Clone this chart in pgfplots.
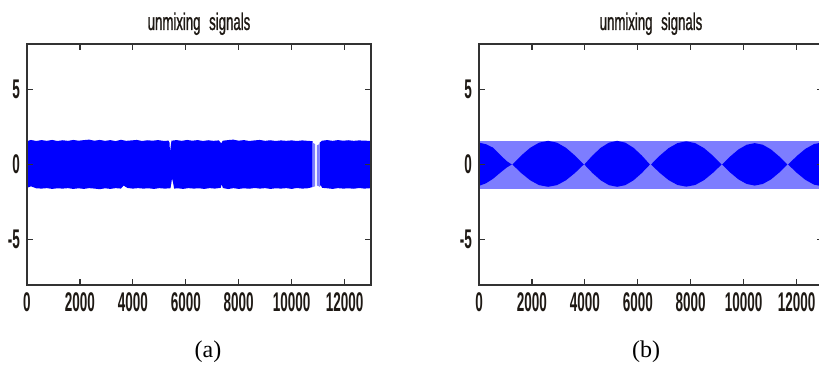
\documentclass[border=0pt]{standalone}
\usepackage{fontspec}
\setmainfont{Liberation Serif}
\newfontfamily\tickfont[FakeStretch=0.5]{Liberation Sans Bold}
\newfontfamily\titlefont[FakeStretch=0.55,FakeBold=1]{Liberation Sans}
\usepackage{pgfplots}
\pgfplotsset{compat=1.18}
\definecolor{lightsig}{RGB}{125,125,255}
\definecolor{framec}{RGB}{50,50,50}
\definecolor{txtc}{RGB}{30,25,20}
\pgfplotsset{
  every axis title shift=0pt,
  sigaxis/.style={
    scale only axis, width=172pt, height=120.5pt,
    xmin=0, xmax=13000, ymin=-8, ymax=8,
    xtick={0,2000,4000,6000,8000,10000,12000},
    ytick={-5,0,5},
    scaled x ticks=false,
    tick align=inside,
    major tick length=3pt,
    axis line style={framec, line width=0.7pt},
    every tick/.style={framec, line width=0.6pt},
    /pgf/number format/assume math mode=true,
    /pgf/number format/1000 sep={},
    ticklabel style={font=\tickfont\fontsize{13.5}{14}\selectfont, text=txtc},
    xticklabel style={yshift=-0.5pt},
    title={unmixing\hspace{2.5pt} signals},
    title style={font=\titlefont\fontsize{12}{13}\selectfont, text=txtc, anchor=base, at={(axis description cs:0.5,1)}, yshift=7pt},
    axis on top,
  }
}
\begin{document}
\begin{tikzpicture}
\useasboundingbox (0,0) rectangle (409.5pt,183pt);
% ---------- panel (a) ----------
\begin{axis}[sigaxis, at={(13.5pt,40.5pt)}, anchor=south west]
\addplot[fill=blue, draw=none] coordinates {
(0,1.55) (150,1.63) (350,1.56) (550,1.62) (750,1.57) (950,1.63) (1150,1.56) (1350,1.61) (1550,1.57) (1750,1.63) (1950,1.58) (2150,1.62) (2350,1.65) (2550,1.58) (2750,1.63) (2950,1.57) (3150,1.62) (3350,1.55) (3550,1.64) (3750,1.57) (3950,1.6) (4150,1.63) (4350,1.56) (4550,1.61) (4750,1.58) (4950,1.62) (5150,1.57) (5350,1.58) (5385,1.45) (5405,0.82) (5430,1.2) (5460,1.58) (5650,1.62) (5850,1.57) (6050,1.63) (6250,1.58) (6450,1.62) (6650,1.56) (6850,1.61) (7050,1.57) (7250,1.6) (7340,1.4) (7400,1.58) (7600,1.62) (7800,1.65) (8000,1.58) (8200,1.62) (8400,1.56) (8600,1.6) (8800,1.63) (9000,1.57) (9200,1.61) (9400,1.56) (9600,1.6) (9800,1.57) (10000,1.6) (10200,1.56) (10400,1.6) (10600,1.57) (10790,1.55)
(10790,-1.5) (10600,-1.58) (10400,-1.6) (10200,-1.56) (10000,-1.62) (9800,-1.57) (9600,-1.6) (9400,-1.58) (9200,-1.62) (9000,-1.57) (8800,-1.6) (8600,-1.56) (8400,-1.61) (8200,-1.58) (8000,-1.62) (7800,-1.57) (7600,-1.63) (7400,-1.56) (7360,-1.3) (7320,-1.55) (7100,-1.6) (6900,-1.57) (6700,-1.62) (6500,-1.58) (6300,-1.6) (6100,-1.57) (5900,-1.62) (5700,-1.58) (5560,-1.6) (5520,-1.2) (5480,-0.92) (5450,-1.3) (5420,-1.58) (5200,-1.6) (5000,-1.57) (4800,-1.62) (4600,-1.58) (4400,-1.6) (4200,-1.57) (4000,-1.6) (3800,-1.56) (3650,-1.4) (3550,-1.6) (3350,-1.57) (3150,-1.62) (2950,-1.58) (2750,-1.64) (2550,-1.6) (2350,-1.57) (2150,-1.62) (1950,-1.58) (1750,-1.62) (1550,-1.57) (1350,-1.6) (1150,-1.58) (950,-1.62) (750,-1.57) (550,-1.6) (350,-1.58) (150,-1.45) (0,-1.55)
};
\addplot[fill=lightsig, draw=none] coordinates {(10790,1.45) (10890,1.35) (10890,-1.45) (10790,-1.5)};
\addplot[fill=lightsig, draw=none] coordinates {(10950,1.27) (11045,1.35) (11045,-1.45) (10950,-1.4)};
\addplot[fill=blue, draw=none] coordinates {
(11060,1.45) (11150,1.58) (11350,1.62) (11550,1.57) (11750,1.62) (11950,1.58) (12150,1.61) (12350,1.57) (12550,1.6) (12750,1.58) (13000,1.57)
(13000,-1.57) (12750,-1.6) (12550,-1.56) (12350,-1.61) (12150,-1.58) (11950,-1.6) (11750,-1.57) (11550,-1.62) (11350,-1.58) (11150,-1.55) (11100,-1.35) (11060,-1.5)
};
\end{axis}
% ---------- panel (b) ----------
\begin{axis}[sigaxis, at={(239.5pt,40.5pt)}, anchor=south west]
\addplot[fill=lightsig, draw=none] coordinates {(0,1.57) (13000,1.57) (13000,-1.6) (0,-1.6)};
% lens 1
\addplot[fill=blue, draw=none] coordinates {
(0,1.45) (260,1.35) (530,1.12) (795,0.65) (1050,0.22) (1240,0)
(1050,-0.2) (800,-0.55) (530,-0.95) (260,-1.25) (0,-1.42)};
% lens 2
\addplot[fill=blue, draw=none] coordinates {
(1260,0) (1598,0.6) (1935,1.11) (2272,1.45) (2610,1.57) (2948,1.45) (3285,1.11) (3622,0.6) (3960,0)
(3622,-0.57) (3285,-1.05) (2948,-1.37) (2610,-1.48) (2272,-1.37) (1935,-1.05) (1598,-0.57)};
% lens 3
\addplot[fill=blue, draw=none] coordinates {
(3980,0) (4290,0.6) (4600,1.11) (4910,1.45) (5220,1.57) (5530,1.45) (5840,1.11) (6150,0.6) (6460,0)
(6150,-0.57) (5840,-1.05) (5530,-1.37) (5220,-1.48) (4910,-1.37) (4600,-1.05) (4290,-0.57)};
% lens 4
\addplot[fill=blue, draw=none] coordinates {
(6500,0) (6834,0.59) (7168,1.09) (7501,1.42) (7835,1.54) (8169,1.42) (8503,1.09) (8836,0.59) (9170,0)
(8836,-0.56) (8503,-1.04) (8169,-1.36) (7835,-1.47) (7501,-1.36) (7168,-1.04) (6834,-0.56)};
% lens 5
\addplot[fill=blue, draw=none] coordinates {
(9190,0) (9498,0.54) (9805,1.0) (10113,1.31) (10420,1.42) (10728,1.31) (11035,1.0) (11343,0.54) (11650,0)
(11343,-0.54) (11035,-0.99) (10728,-1.29) (10420,-1.4) (10113,-1.29) (9805,-0.99) (9498,-0.54)};
% lens 6
\addplot[fill=blue, draw=none] coordinates {
(11680,0) (12008,0.56) (12335,1.04) (12663,1.36) (13000,1.47)
(13000,-1.45) (12663,-1.34) (12335,-1.02) (12008,-0.55)};
\end{axis}
\node[font=\fontsize{12}{14}\selectfont] at (104pt,7pt) {(a)};
\node[font=\fontsize{12}{14}\selectfont] at (323pt,7pt) {(b)};
\end{tikzpicture}
\end{document}
